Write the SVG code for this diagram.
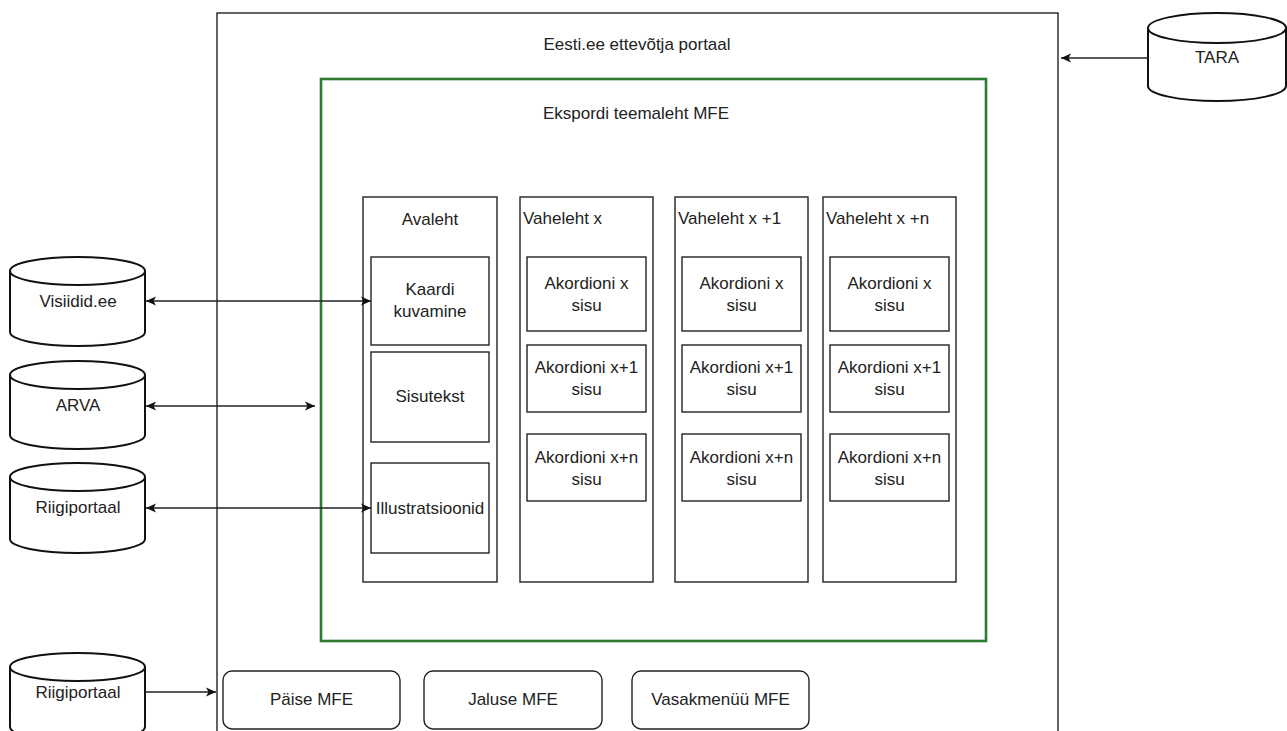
<svg xmlns="http://www.w3.org/2000/svg" width="1287" height="731" viewBox="0 0 1287 731">
<defs>
<style>
.t{font-family:"Liberation Sans",Arial,sans-serif;font-size:17px;fill:#222;}
.c{text-anchor:middle;}
.box{fill:#fff;stroke:#222;stroke-width:1.4;}
.cyl{fill:#fff;stroke:#111;stroke-width:2;}
.edge{fill:none;stroke:#222;stroke-width:1.4;}
</style>
<marker id="ah" markerWidth="11" markerHeight="10" refX="10" refY="5" orient="auto-start-reverse" markerUnits="userSpaceOnUse">
<path d="M0,0.5 L10,5 L0,9.5 L2.5,5 Z" fill="#111"/>
</marker>
</defs>
<rect width="1287" height="731" fill="#fff"/>

<g id="portal">
<rect class="box" x="217" y="13" width="841" height="740"/>
<text class="t c" x="637" y="50">Eesti.ee ettevõtja portaal</text>
</g>

<g id="mfe">
<rect x="321" y="79" width="665" height="562" fill="#fff" stroke="#2e7a30" stroke-width="2.6"/>
<text class="t c" x="636" y="119">Ekspordi teemaleht MFE</text>
</g>

<g id="avaleht">
<rect class="box" x="363" y="197" width="134" height="385"/>
<text class="t c" x="430" y="225">Avaleht</text>
</g>
<g id="kaardi">
<rect class="box" x="371" y="257" width="118" height="88"/>
<text class="t c" x="430" y="295">Kaardi</text>
<text class="t c" x="430" y="317">kuvamine</text>
</g>
<g id="sisutekst">
<rect class="box" x="371" y="352" width="118" height="90"/>
<text class="t c" x="430" y="402">Sisutekst</text>
</g>
<g id="illustratsioonid">
<rect class="box" x="371" y="463" width="118" height="90"/>
<text class="t c" x="430" y="514">Illustratsioonid</text>
</g>

<g id="vaheleht-x">
<rect class="box" x="520" y="197" width="133" height="385"/>
<text class="t" x="523" y="224">Vaheleht x</text>
</g>
<g id="vx-a1"><rect class="box" x="527" y="257" width="119" height="74"/><text class="t c" x="586.5" y="289">Akordioni x</text><text class="t c" x="586.5" y="311">sisu</text></g>
<g id="vx-a2"><rect class="box" x="527" y="345" width="119" height="67"/><text class="t c" x="586.5" y="373">Akordioni x+1</text><text class="t c" x="586.5" y="395">sisu</text></g>
<g id="vx-a3"><rect class="box" x="527" y="434" width="119" height="67"/><text class="t c" x="586.5" y="463">Akordioni x+n</text><text class="t c" x="586.5" y="485">sisu</text></g>

<g id="vaheleht-x1">
<rect class="box" x="675" y="197" width="133" height="385"/>
<text class="t" x="678" y="224">Vaheleht x +1</text>
</g>
<g id="vx1-a1"><rect class="box" x="682" y="257" width="119" height="74"/><text class="t c" x="741.5" y="289">Akordioni x</text><text class="t c" x="741.5" y="311">sisu</text></g>
<g id="vx1-a2"><rect class="box" x="682" y="345" width="119" height="67"/><text class="t c" x="741.5" y="373">Akordioni x+1</text><text class="t c" x="741.5" y="395">sisu</text></g>
<g id="vx1-a3"><rect class="box" x="682" y="434" width="119" height="67"/><text class="t c" x="741.5" y="463">Akordioni x+n</text><text class="t c" x="741.5" y="485">sisu</text></g>

<g id="vaheleht-xn">
<rect class="box" x="823" y="197" width="133" height="385"/>
<text class="t" x="826" y="224">Vaheleht x +n</text>
</g>
<g id="vxn-a1"><rect class="box" x="830" y="257" width="119" height="74"/><text class="t c" x="889.5" y="289">Akordioni x</text><text class="t c" x="889.5" y="311">sisu</text></g>
<g id="vxn-a2"><rect class="box" x="830" y="345" width="119" height="67"/><text class="t c" x="889.5" y="373">Akordioni x+1</text><text class="t c" x="889.5" y="395">sisu</text></g>
<g id="vxn-a3"><rect class="box" x="830" y="434" width="119" height="67"/><text class="t c" x="889.5" y="463">Akordioni x+n</text><text class="t c" x="889.5" y="485">sisu</text></g>

<g id="paise"><rect class="box" x="223" y="671" width="177" height="58" rx="9"/><text class="t c" x="311.5" y="705">Päise MFE</text></g>
<g id="jaluse"><rect class="box" x="424" y="671" width="178" height="58" rx="9"/><text class="t c" x="513" y="705">Jaluse MFE</text></g>
<g id="vasakmenuu"><rect class="box" x="632" y="671" width="177" height="58" rx="9"/><text class="t c" x="720.5" y="705">Vasakmenüü MFE</text></g>

<g id="visiidid">
<path class="cyl" d="M10,271 A67.5,14 0 0 1 145,271 L145,332 A67.5,14 0 0 1 10,332 Z M10,271 A67.5,14 0 0 0 145,271"/>
<text class="t c" x="78" y="307">Visiidid.ee</text>
</g>
<g id="arva">
<path class="cyl" d="M10,375 A67.5,14 0 0 1 145,375 L145,435 A67.5,14 0 0 1 10,435 Z M10,375 A67.5,14 0 0 0 145,375"/>
<text class="t c" x="78" y="411">ARVA</text>
</g>
<g id="riigiportaal1">
<path class="cyl" d="M10,477 A67.5,14 0 0 1 145,477 L145,539 A67.5,14 0 0 1 10,539 Z M10,477 A67.5,14 0 0 0 145,477"/>
<text class="t c" x="78" y="513">Riigiportaal</text>
</g>
<g id="riigiportaal2">
<path class="cyl" d="M10,667 A67.5,14 0 0 1 145,667 L145,727 A67.5,14 0 0 1 10,727 Z M10,667 A67.5,14 0 0 0 145,667"/>
<text class="t c" x="78" y="698">Riigiportaal</text>
</g>
<g id="tara">
<path class="cyl" d="M1148,28 A69,15 0 0 1 1286,28 L1286,86 A69,15 0 0 1 1148,86 Z M1148,28 A69,15 0 0 0 1286,28"/>
<text class="t c" x="1217" y="63">TARA</text>
</g>

<g id="connectors">
<line class="edge" x1="146" y1="301" x2="371" y2="301" marker-start="url(#ah)" marker-end="url(#ah)"/>
<line class="edge" x1="146" y1="406" x2="315" y2="406" marker-start="url(#ah)" marker-end="url(#ah)"/>
<line class="edge" x1="146" y1="508" x2="371" y2="508" marker-start="url(#ah)" marker-end="url(#ah)"/>
<line class="edge" x1="145" y1="692" x2="216" y2="692" marker-end="url(#ah)"/>
<line class="edge" x1="1148" y1="58" x2="1061" y2="58" marker-end="url(#ah)"/>
</g>
</svg>
